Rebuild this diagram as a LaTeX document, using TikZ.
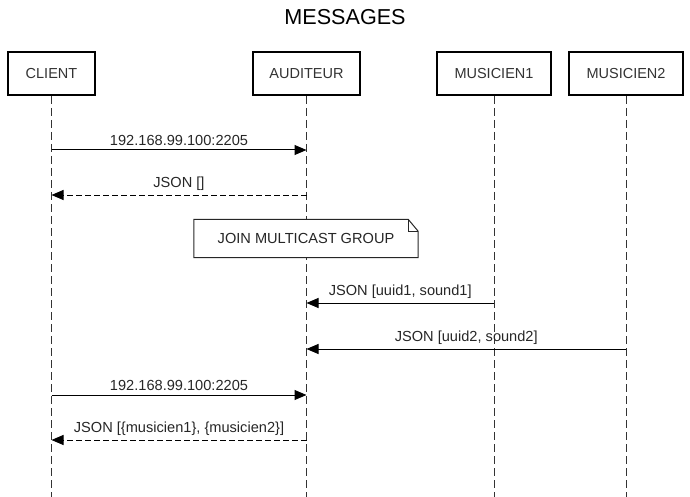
\documentclass[tikz,border=0pt]{standalone}
\usepackage{fontspec}
\setmainfont{Liberation Sans}
\usetikzlibrary{arrows.meta}
\begin{document}
\begin{tikzpicture}[x=1pt,y=-1pt,
  actor/.style={draw=black, line width=2pt, fill=white, minimum height=43pt, text=black!80, font=\fontsize{14.5}{17}\selectfont, inner sep=0pt},
  lifeline/.style={draw=black!80, line width=1pt, dash pattern=on 8pt off 4pt},
  msg/.style={draw=black, line width=1pt, -{Triangle[length=12pt,width=10pt]}},
  reply/.style={msg, dash pattern=on 6pt off 3pt},
  lbl/.style={font=\fontsize{14.6}{17}\selectfont, text=black!85, inner sep=1pt},
  notebox/.style={fill=white, minimum width=224pt, minimum height=38pt, inner sep=0pt, font=\fontsize{14.6}{17}\selectfont, text=black!85}
]
\useasboundingbox (0,0) rectangle (690,497);
\node[font=\fontsize{21.6}{24}\selectfont] (title) at (345,17) {MESSAGES};
% actors
\node[actor, minimum width=87pt] (client) at (51.5,73.5) {CLIENT};
\node[actor, minimum width=107pt] (aud) at (306.5,73.5) {AUDITEUR};
\node[actor, minimum width=114pt] (m1) at (494,73.5) {MUSICIEN1};
\node[actor, minimum width=114pt] (m2) at (626,73.5) {MUSICIEN2};
% lifeline ends
\coordinate (clientEnd) at (client.south |- 0,497);
\coordinate (audEnd) at (aud.south |- 0,497);
\coordinate (m1End) at (m1.south |- 0,497);
\coordinate (m2End) at (m2.south |- 0,497);
\draw[lifeline] (client.south) -- (clientEnd);
\draw[lifeline] (aud.south) -- (audEnd);
\draw[lifeline] (m1.south) -- (m1End);
\draw[lifeline] (m2.south) -- (m2End);
% message points
\coordinate (c1) at (client.south |- 0,150);
\coordinate (a1) at (aud.south |- 0,150);
\coordinate (a2) at (aud.south |- 0,195);
\coordinate (c2) at (client.south |- 0,195);
\coordinate (u1) at (m1.south |- 0,303);
\coordinate (a3) at (aud.south |- 0,303);
\coordinate (u2) at (m2.south |- 0,349);
\coordinate (a4) at (aud.south |- 0,349);
\coordinate (c3) at (client.south |- 0,395);
\coordinate (a5) at (aud.south |- 0,395);
\coordinate (a6) at (aud.south |- 0,440);
\coordinate (c4) at (client.south |- 0,440);
% note
\node[notebox] (note) at (306,238.5) {JOIN MULTICAST GROUP};
\draw[line width=1pt, draw=black!85] (note.south west) -- (note.north west) -- ([xshift=-10pt]note.north east) -- ([yshift=-12pt]note.north east) -- (note.south east) -- cycle;
\draw[line width=1pt, draw=black!85] ([xshift=-10pt]note.north east) |- ([yshift=-12pt]note.north east);
% messages
\draw[msg] (c1) -- node[lbl, above=3pt] {192.168.99.100:2205} (a1);
\draw[reply] (a2) -- node[lbl, above=3pt] {JSON []} (c2);
\draw[msg] (u1) -- node[lbl, above=3pt] {JSON [uuid1, sound1]} (a3);
\draw[msg] (u2) -- node[lbl, above=3pt] {JSON [uuid2, sound2]} (a4);
\draw[msg] (c3) -- node[lbl, above=3pt] {192.168.99.100:2205} (a5);
\draw[reply] (a6) -- node[lbl, above=3pt] {JSON [\{musicien1\}, \{musicien2\}]} (c4);
\end{tikzpicture}
\end{document}
